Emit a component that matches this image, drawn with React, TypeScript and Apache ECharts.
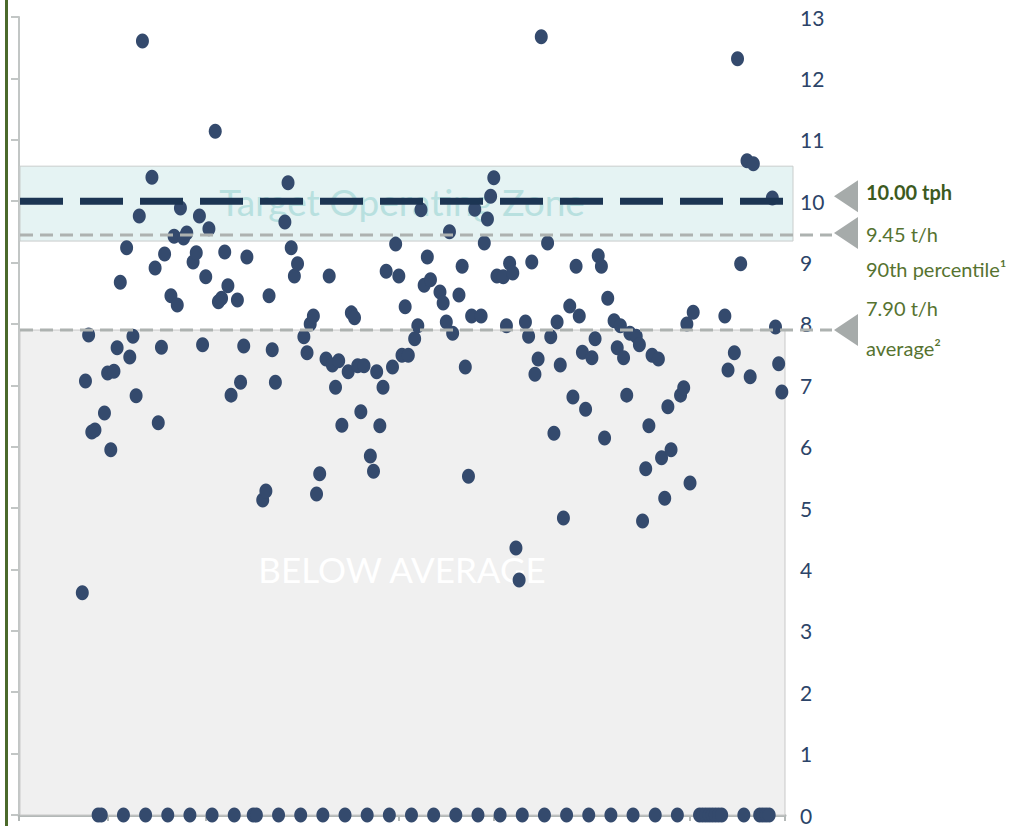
import React, { useEffect, useRef } from "react";
import * as echarts from "echarts";

// Day index (0 = start of first month) and throughput in t/h
const productionDays = [20,21,22,23,24,27,28,29,30,31,32,34,35,36,37,38,39,42,43,44,45,46,48,49,50,51,52,53,55,56,57,58,59,60,62,63,64,65,66,67,69,70,71,72,77,78,79,80,81,84,85,86,87,88,90,91,92,93,94,95,97,98,99,100,101,102,104,105,106,107,108,109,111,112,113,114,115,116,118,119,120,121,122,123,125,126,127,128,129,130,133,134,135,136,137,139,140,141,142,143,144,146,147,148,149,150,151,153,154,155,156,157,158,160,161,162,163,164,165,167,168,169,170,171,172,174,175,176,177,178,179,181,182,183,184,185,186,188,189,190,191,192,193,195,196,197,198,199,200,202,203,204,205,206,209,210,211,212,213,223,224,226,227,228,230,231,232,238,239,240,241];
const productionTph = [3.62,7.07,7.82,6.24,6.27,6.55,7.20,5.95,7.23,7.61,8.68,9.24,7.46,7.80,6.83,9.76,12.61,10.39,8.91,6.39,7.62,9.14,8.46,9.43,8.31,9.89,9.40,9.48,9.01,9.16,9.76,7.66,8.77,9.55,11.14,8.36,8.42,9.17,8.62,6.84,8.39,7.05,7.64,9.09,5.13,5.28,8.46,7.58,7.05,9.66,10.30,9.24,8.78,8.98,7.79,7.53,8.00,8.13,5.23,5.56,7.43,8.78,7.33,6.97,7.40,6.35,7.22,8.18,8.10,7.32,6.57,7.32,5.85,5.60,7.22,6.34,6.97,8.86,7.30,9.30,8.78,7.49,8.28,7.49,7.76,7.97,9.86,8.63,9.09,8.72,8.52,8.34,8.03,9.50,7.85,8.47,8.94,7.30,5.52,8.13,9.87,8.13,9.32,9.71,10.08,10.38,8.78,8.77,7.97,8.99,8.83,4.35,3.83,8.03,7.80,9.01,7.18,7.43,12.68,9.32,7.79,6.22,8.03,7.33,4.84,8.29,6.81,8.94,8.13,7.54,6.61,7.45,7.76,9.11,8.94,6.14,8.42,8.05,7.61,7.97,7.45,6.84,7.85,7.80,7.66,4.79,5.64,6.34,7.49,7.43,5.82,5.16,6.65,5.95,6.84,6.96,8.00,5.41,8.19,8.13,7.25,7.53,12.32,8.98,10.66,7.14,10.61,10.05,7.95,7.35,6.89];
const idleDays = [25,26,33,40,47,54,61,68,74,75,82,89,96,103,110,117,124,131,138,145,152,159,166,173,180,187,194,201,208,215,216,217,218,219,220,221,222,229,234,235,236,237];

const monthStarts = [0, 28, 59, 89, 120, 150, 181, 212, 242];
const dayMin = 0;
const dayMax = 242;
const yMin = 0;
const yMax = 13;

const targetRate = 10.0;
const p90Rate = 9.45;
const avgRate = 7.9;
const targetZone = [9.35, 10.57];

const labelTarget = "10.00 tph";
const labelP90 = "9.45 t/h";
const labelP90Sub = "90th percentile¹";
const labelAvg = "7.90 t/h";
const labelAvgSub = "average²";
const zoneText = "Target Operating Zone";
const belowText = "BELOW AVERAGE";

const FONT = "Lato, 'Open Sans', sans-serif";

export default function App() {
  const ref = useRef<HTMLDivElement>(null);
  useEffect(() => {
    const chart = echarts.init(ref.current!, null, { renderer: "svg" });
    const points = productionDays.map((d, i) => [d, productionTph[i]]);
    const zeros = idleDays.map((d) => [d, 0]);
    chart.setOption({
      animation: false,
      grid: { left: 19, right: 231, top: 17, bottom: 11 },
      xAxis: {
        type: "value",
        min: dayMin,
        max: dayMax,
        axisLine: { show: true, lineStyle: { color: "#b3b8b7", width: 3 } },
        axisTick: { show: true, customValues: monthStarts, length: 6, lineStyle: { color: "#b3b8b7", width: 2 } },
        axisLabel: { show: false },
        splitLine: { show: false },
      },
      yAxis: [
        {
          type: "value",
          position: "left",
          min: yMin,
          max: yMax,
          interval: 1,
          axisLine: { show: true, lineStyle: { color: "#c2c6c5", width: 2 } },
          axisTick: { show: true, length: 8, lineStyle: { color: "#c2c6c5", width: 2 } },
          axisLabel: { show: false },
          splitLine: { show: false },
        },
        {
          type: "value",
          position: "right",
          min: yMin,
          max: yMax,
          interval: 1,
          axisLine: { show: false },
          axisTick: { show: false },
          axisLabel: { color: "#2c4468", fontSize: 21, margin: 15, fontFamily: FONT },
          splitLine: { show: false },
        },
      ],
      series: [
        {
          type: "scatter",
          data: points,
          symbol: "circle",
          symbolSize: [13, 15],
          clip: false,
          itemStyle: { color: "#344a6d", opacity: 1 },
          z: 5,
        },
        {
          type: "scatter",
          data: zeros,
          symbol: "circle",
          symbolSize: [13, 15],
          clip: false,
          itemStyle: { color: "#344a6d", opacity: 1 },
          z: 5,
        },
      ],
    });

    const yPx = (v: number) => chart.convertToPixel({ yAxisIndex: 0 }, v) as number;
    const xPx = (d: number) => chart.convertToPixel({ xAxisIndex: 0 }, d) as number;
    const x0 = xPx(dayMin);
    const x1 = xPx(dayMax);
    const labelX = 866;
    const triTipX = 834;
    const triBaseX = 858;
    const tri = (yc: number) => ({
      type: "polygon",
      z: 20,
      shape: { points: [[triBaseX, yc - 16], [triBaseX, yc + 16], [triTipX, yc]] },
      style: { fill: "#a6abaa" },
    });
    const label = (text: string, y: number, bold = false) => ({
      type: "text",
      z: 20,
      x: labelX,
      y,
      style: {
        text,
        fill: bold ? "#3d5a1e" : "#567330",
        font: `${bold ? "bold " : ""}20px ${FONT}`,
        verticalAlign: "middle",
      },
    });

    chart.setOption({
      graphic: [
        { type: "rect", z: 30, shape: { x: 5, y: 0, width: 3, height: 826 }, style: { fill: "#4b6a2b" } },
        {
          type: "rect",
          z: 1,
          shape: { x: x0 + 1, y: yPx(avgRate), width: x1 - x0 - 1, height: yPx(0) - yPx(avgRate) },
          style: { fill: "#f0f0f0", stroke: "#c9c9c9", lineWidth: 1 },
        },
        {
          type: "rect",
          z: 1,
          shape: { x: x0 + 1, y: yPx(targetZone[1]), width: x1 - x0 + 7, height: yPx(targetZone[0]) - yPx(targetZone[1]) },
          style: { fill: "#e5f3f3", stroke: "#c9cdcc", lineWidth: 1 },
        },
        {
          type: "text",
          z: 2,
          x: (x0 + x1) / 2,
          y: yPx(targetRate),
          style: { text: zoneText, fill: "#b8e0df", font: `37px ${FONT}`, align: "center", verticalAlign: "middle" },
        },
        {
          type: "text",
          z: 2,
          x: (x0 + x1) / 2,
          y: yPx(4),
          style: { text: belowText, fill: "#ffffff", font: `35px ${FONT}`, align: "center", verticalAlign: "middle" },
        },
        {
          type: "line",
          z: 10,
          shape: { x1: x0 + 1, y1: yPx(targetRate), x2: x1, y2: yPx(targetRate) },
          style: { stroke: "#1c3553", lineWidth: 7, lineDash: [43, 17] },
        },
        {
          type: "line",
          z: 10,
          shape: { x1: x0 + 1, y1: yPx(p90Rate), x2: 832, y2: yPx(p90Rate) },
          style: { stroke: "#adb2b0", lineWidth: 3, lineDash: [13, 7] },
        },
        {
          type: "line",
          z: 10,
          shape: { x1: x0 + 1, y1: yPx(avgRate), x2: 832, y2: yPx(avgRate) },
          style: { stroke: "#adb2b0", lineWidth: 3, lineDash: [13, 7] },
        },
        tri(yPx(targetRate) - 5),
        tri(yPx(p90Rate) - 2),
        tri(yPx(avgRate)),
        label(labelTarget, yPx(targetRate) - 9, true),
        label(labelP90, yPx(p90Rate) - 1),
        label(labelP90Sub, yPx(p90Rate) + 34),
        label(labelAvg, yPx(avgRate) - 22),
        label(labelAvgSub, yPx(avgRate) + 18),
      ],
    });
    return () => chart.dispose();
  }, []);
  return <div ref={ref} style={{ position: "absolute", left: 0, top: 0, width: 1016, height: 826 }} />;
}
